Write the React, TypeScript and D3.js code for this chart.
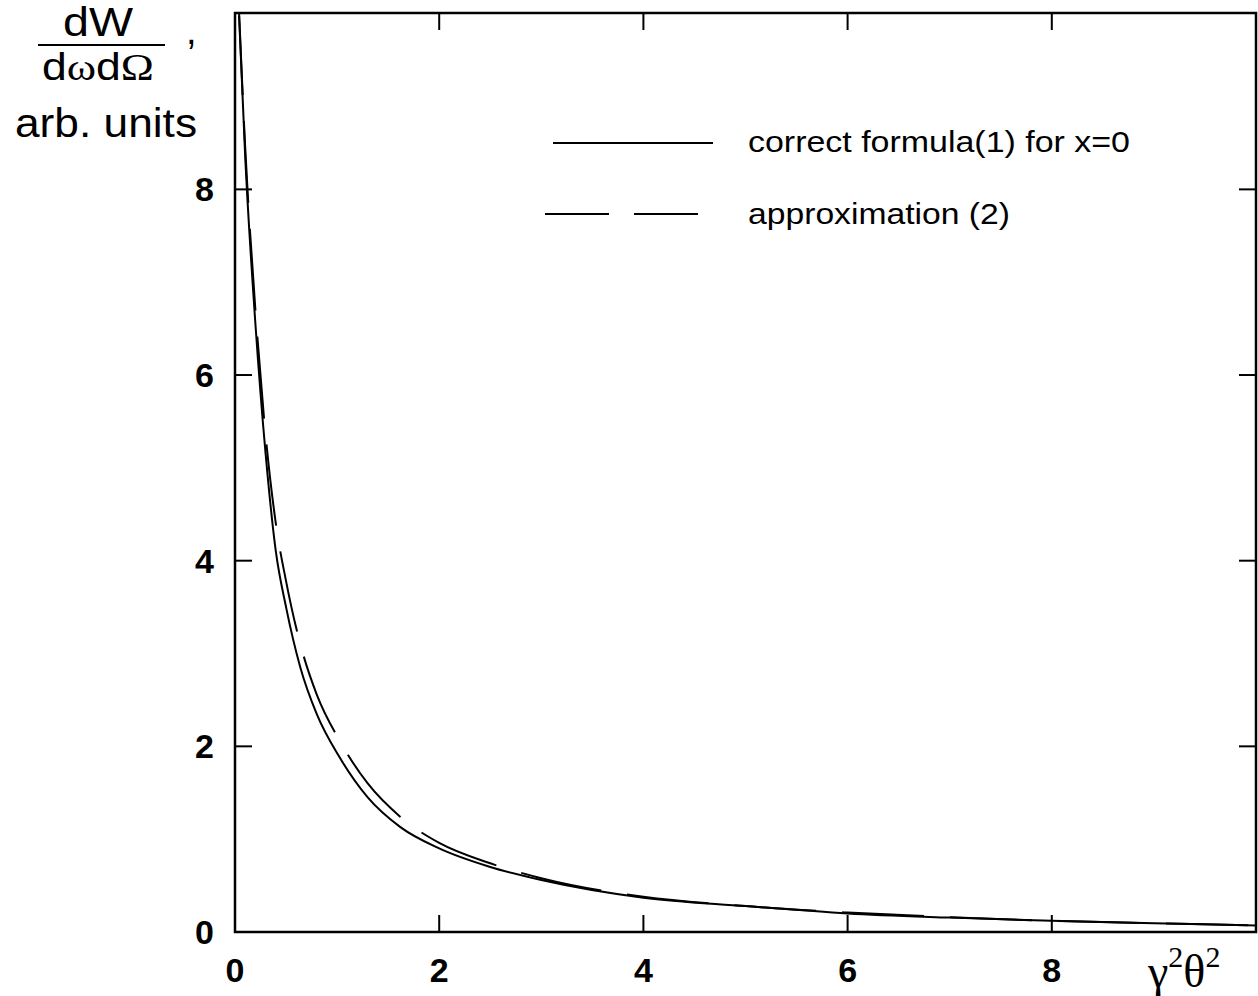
import React from 'react';
import * as d3 from 'd3';

const W = 1258;
const H = 996;

// γ²θ² sample positions and the two spectra (arb. units)
const gammaTheta = [0.04, 0.1, 0.2, 0.3, 0.4, 0.5, 0.64, 0.8, 1.02, 1.3, 1.62, 2, 2.5, 3, 4, 5, 6, 7, 8, 9, 10];
const exactValues = [9.87, 8.35, 6.55, 5.15, 4.1, 3.5, 2.85, 2.35, 1.89, 1.45, 1.13, 0.9, 0.7, 0.56, 0.37, 0.28, 0.2, 0.155, 0.12, 0.095, 0.07];
const approxValues = [9.9, 8.45, 6.7, 5.35, 4.4, 3.78, 3.1, 2.56, 2.07, 1.6, 1.24, 0.96, 0.74, 0.58, 0.38, 0.28, 0.21, 0.16, 0.12, 0.095, 0.072];

const xTickValues = [0, 2, 4, 6, 8];
const yTickValues = [0, 2, 4, 6, 8];
const legendLabels = ['correct formula(1) for x=0', 'approximation (2)'];

const plot = { left: 235, right: 1256, top: 13, bottom: 932 };

export default function App() {
  const x = d3.scaleLinear().domain([0, 10]).range([plot.left, plot.right]);
  const y = d3.scaleLinear().domain([0, 9.9]).range([plot.bottom, plot.top]);

  const line = d3
    .line<number>()
    .x((_, i) => x(gammaTheta[i]))
    .y((v) => y(v))
    .curve(d3.curveMonotoneX);

  const exactPath = line(exactValues) || '';
  const approxPath = line(approxValues) || '';

  const tickLen = 17;
  const arial = 'Arial, "Liberation Sans", Helvetica, sans-serif';
  const times = '"Times New Roman", "Liberation Serif", serif';

  return (
    <svg
      width={W}
      height={H}
      style={{ position: 'absolute', left: 0, top: 0, display: 'block', background: '#fff' }}
    >
      <defs>
        <clipPath id="plotClip">
          <rect x={plot.left} y={plot.top} width={plot.right - plot.left} height={plot.bottom - plot.top} />
        </clipPath>
      </defs>

      {/* curves */}
      <g clipPath="url(#plotClip)" fill="none" stroke="#000">
        <path d={exactPath} strokeWidth={2} />
        <path d={approxPath} strokeWidth={2} strokeDasharray="82 26" />
      </g>

      {/* frame */}
      <rect
        x={plot.left}
        y={plot.top}
        width={plot.right - plot.left}
        height={plot.bottom - plot.top}
        fill="none"
        stroke="#000"
        strokeWidth={2.5}
      />

      {/* inward ticks on all four sides */}
      <g stroke="#000" strokeWidth={2}>
        {xTickValues.filter((t) => t > 0).map((t) => (
          <g key={'xt' + t}>
            <line x1={x(t)} x2={x(t)} y1={plot.bottom} y2={plot.bottom - tickLen} />
            <line x1={x(t)} x2={x(t)} y1={plot.top} y2={plot.top + tickLen} />
          </g>
        ))}
        {yTickValues.filter((t) => t > 0).map((t) => (
          <g key={'yt' + t}>
            <line x1={plot.left} x2={plot.left + tickLen} y1={y(t)} y2={y(t)} />
            <line x1={plot.right} x2={plot.right - tickLen} y1={y(t)} y2={y(t)} />
          </g>
        ))}
      </g>

      {/* tick labels */}
      <g fontFamily={arial} fontWeight="bold" fontSize={34} fill="#000">
        {xTickValues.map((t) => (
          <text key={'xl' + t} x={x(t)} y={982} textAnchor="middle">
            {t}
          </text>
        ))}
        {yTickValues.map((t) => (
          <text key={'yl' + t} x={214} y={y(t) + 12} textAnchor="end">
            {t}
          </text>
        ))}
      </g>

      {/* x axis title */}
      <text x={1148} y={987} fontFamily={times} fontSize={46} fill="#000">
        γ<tspan fontSize={30} dy={-20}>2</tspan>
        <tspan dy={20}>θ</tspan>
        <tspan fontSize={30} dy={-20}>2</tspan>
      </text>

      {/* y axis title: dW / dωdΩ , arb. units */}
      <g fill="#000">
        <text x={98} y={36} textAnchor="middle" fontFamily={arial} fontSize={40} textLength={70} lengthAdjust="spacingAndGlyphs">
          dW
        </text>
        <line x1={38} x2={165} y1={45} y2={45} stroke="#000" strokeWidth={2} />
        <text x={98} y={80} textAnchor="middle" fontFamily={arial} fontSize={38} textLength={112} lengthAdjust="spacingAndGlyphs">
          d<tspan fontFamily={times}>ω</tspan>d<tspan fontFamily={times}>Ω</tspan>
        </text>
        <text x={186} y={44} fontFamily={arial} fontSize={38}>
          ,
        </text>
        <text x={15} y={137} fontFamily={arial} fontSize={40} textLength={182} lengthAdjust="spacingAndGlyphs">
          arb. units
        </text>
      </g>

      {/* legend */}
      <g>
        <line x1={553} x2={713} y1={143} y2={143} stroke="#000" strokeWidth={2} />
        <line x1={545} x2={698} y1={214} y2={214} stroke="#000" strokeWidth={2} strokeDasharray="64 25" />
        <text x={748} y={152} fontFamily={arial} fontSize={30} fill="#000" textLength={382} lengthAdjust="spacingAndGlyphs">
          {legendLabels[0]}
        </text>
        <text x={748} y={224} fontFamily={arial} fontSize={30} fill="#000" textLength={262} lengthAdjust="spacingAndGlyphs">
          {legendLabels[1]}
        </text>
      </g>
    </svg>
  );
}
